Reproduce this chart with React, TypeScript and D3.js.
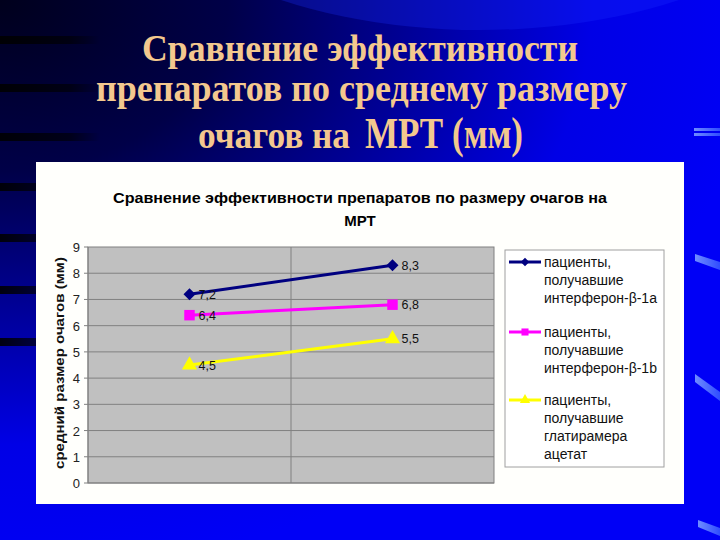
import React from 'react';
import * as d3 from 'd3';

// data
const categories = ['c1', 'c2'];
const seriesNames = [
  ['пациенты,', 'получавшие', 'интерферон-β-1a'],
  ['пациенты,', 'получавшие', 'интерферон-β-1b'],
  ['пациенты,', 'получавшие', 'глатирамера', 'ацетат'],
];
const beta1a = [7.2, 8.3];
const beta1b = [6.4, 6.8];
const glatiramer = [4.5, 5.5];
const yTicks = [0, 1, 2, 3, 4, 5, 6, 7, 8, 9];

const slideTitle = ['Сравнение эффективности', 'препаратов по среднему размеру'];
const chartTitle = ['Сравнение эффективности препаратов по размеру очагов на', 'МРТ'];
const yTitle = 'средний размер очагов (мм)';

const W = 720;
const H = 540;

// diamonds are squares turned 45 degrees, as in the Excel marker
const series = [
  { values: beta1a, color: '#000080', symbol: d3.symbolSquare, rot: 45, size: 72, lsize: 36 },
  { values: beta1b, color: '#FF00FF', symbol: d3.symbolSquare, rot: 0, size: 110, lsize: 50 },
  { values: glatiramer, color: '#FFFF00', symbol: d3.symbolTriangle, rot: 0, size: 100, lsize: 45 },
];

const ru = d3.formatLocale({ decimal: ',', thousands: ' ', grouping: [3], currency: ['', ''] });
const fmt = ru.format('.1f');

export default function App() {
  const plot = { left: 88, right: 494, top: 247, bottom: 483 };

  const x = d3.scaleBand<string>().domain(categories).range([plot.left, plot.right]);
  const y = d3.scaleLinear().domain([0, 9]).range([plot.bottom, plot.top]);

  const line = d3
    .line<number>()
    .x((_, i) => x(categories[i])! + x.bandwidth() / 2)
    .y((d) => y(d));

  const sans = 'Arial, "Liberation Sans", sans-serif';
  const serif = '"Times New Roman", "Liberation Serif", serif';
  const stripes = [40, 88, 137, 187, 238, 290, 342];

  // legend layout
  const legend = { left: 505, top: 250, right: 664, bottom: 467 };
  const groupTop = [267, 337, 405];
  const lineGap = 18;

  return (
    <svg width={W} height={H} style={{ position: 'absolute', left: 0, top: 0 }}>
      <defs>
        <radialGradient
          id="bg"
          cx="0"
          cy="0"
          r="760"
          gradientUnits="userSpaceOnUse"
          gradientTransform="scale(1,0.75)"
        >
          <stop offset="0" stopColor="#00001c" />
          <stop offset="0.3" stopColor="#000048" />
          <stop offset="0.55" stopColor="#00009a" />
          <stop offset="0.78" stopColor="#0000e6" />
          <stop offset="1" stopColor="#0000f6" />
        </radialGradient>
        <linearGradient id="stripe" x1="0" x2="1" y1="0" y2="0">
          <stop offset="0" stopColor="#000000" stopOpacity="0.9" />
          <stop offset="0.7" stopColor="#000000" stopOpacity="0.6" />
          <stop offset="1" stopColor="#000000" stopOpacity="0" />
        </linearGradient>
        <linearGradient id="tick" x1="0" x2="1" y1="0" y2="0">
          <stop offset="0" stopColor="#6f8cff" />
          <stop offset="1" stopColor="#2f4cff" />
        </linearGradient>
      </defs>

      {/* slide background */}
      <rect x={0} y={0} width={W} height={H} fill="url(#bg)" />
      <ellipse cx={480} cy={-150} rx={360} ry={180} fill="#1a30ff" opacity={0.28} />
      {stripes.map((s, i) => (
        <rect key={i} x={0} y={s - 4} width={i < 3 ? 100 : 60} height={8} fill="url(#stripe)" />
      ))}
      <rect x={694} y={128} width={26} height={3} fill="url(#tick)" />
      <rect x={694} y={133} width={26} height={3} fill="url(#tick)" />
      <path d="M695,254 L720,262 L720,270 L695,261 Z" fill="url(#tick)" />
      <path d="M695,374 L720,392 L720,401 L695,382 Z" fill="url(#tick)" />
      <path d="M698,520 L720,528 L720,536 L698,527 Z" fill="url(#tick)" />

      {/* slide title */}
      <g fill="#F3C88E" fontFamily={serif} fontWeight="bold">
        <text x={142} y={61} fontSize={37} textLength={436} lengthAdjust="spacingAndGlyphs">
          {slideTitle[0]}
        </text>
        <text x={96} y={101} fontSize={38} textLength={531} lengthAdjust="spacingAndGlyphs">
          {slideTitle[1]}
        </text>
        <text x={198} y={148} fontSize={38} textLength={152} lengthAdjust="spacingAndGlyphs">
          очагов на
        </text>
        <text x={365} y={148} fontSize={45} textLength={158} lengthAdjust="spacingAndGlyphs">
          МРТ (мм)
        </text>
      </g>

      {/* chart panel */}
      <rect x={36} y={162} width={648} height={342} fill="#FFFFFC" />

      <g fontFamily={sans} fontWeight="bold" fontSize={15} fill="#000">
        <text x={113} y={203} textLength={494} lengthAdjust="spacingAndGlyphs">
          {chartTitle[0]}
        </text>
        <text x={360} y={226} textAnchor="middle">
          {chartTitle[1]}
        </text>
      </g>

      {/* plot area */}
      <rect
        x={plot.left}
        y={plot.top}
        width={plot.right - plot.left}
        height={plot.bottom - plot.top}
        fill="#C0C0C0"
        stroke="#808080"
      />
      {yTicks.slice(1, -1).map((t) => (
        <line key={t} x1={plot.left} x2={plot.right} y1={y(t)} y2={y(t)} stroke="#808080" />
      ))}
      <line x1={x(categories[1])} x2={x(categories[1])} y1={plot.top} y2={plot.bottom} stroke="#808080" />
      <line x1={plot.left} x2={plot.left} y1={plot.top} y2={plot.bottom} stroke="#808080" />
      <line x1={plot.left} x2={plot.right} y1={plot.bottom} y2={plot.bottom} stroke="#808080" />

      {/* y axis */}
      <g fontFamily={sans} fontSize={13} fill="#222" textAnchor="end">
        {yTicks.map((t) => (
          <g key={t}>
            <line x1={plot.left - 4} x2={plot.left} y1={y(t)} y2={y(t)} stroke="#808080" />
            <text x={plot.left - 8} y={y(t) + 5}>{t}</text>
          </g>
        ))}
      </g>
      <text
        transform={`translate(64,${(plot.top + plot.bottom) / 2 - 2}) rotate(-90)`}
        textAnchor="middle"
        fontFamily={sans}
        fontWeight="bold"
        fontSize={13.5}
        fill="#111"
        textLength={212}
        lengthAdjust="spacingAndGlyphs"
      >
        {yTitle}
      </text>

      {/* series */}
      {series.map((s, si) => (
        <g key={si}>
          <path d={line(s.values) || ''} fill="none" stroke={s.color} strokeWidth={3} />
          {s.values.map((v, i) => {
            const cx = x(categories[i])! + x.bandwidth() / 2;
            return (
              <g key={i}>
                <path
                  d={d3.symbol().type(s.symbol).size(s.size)() || ''}
                  transform={`translate(${cx},${y(v)}) rotate(${s.rot})`}
                  fill={s.color}
                />
                <text x={cx + 9} y={y(v) + 4.5} fontFamily={sans} fontSize={12.5} fill="#111">
                  {fmt(v)}
                </text>
              </g>
            );
          })}
        </g>
      ))}

      {/* legend */}
      <rect
        x={legend.left}
        y={legend.top}
        width={legend.right - legend.left}
        height={legend.bottom - legend.top}
        fill="#FFFFFF"
        stroke="#A0A0A0"
      />
      {series.map((s, si) => {
        const cy = groupTop[si] - 5;
        return (
          <g key={si}>
            <line x1={509} x2={541} y1={cy} y2={cy} stroke={s.color} strokeWidth={3} />
            <path
              d={d3.symbol().type(s.symbol).size(s.lsize)() || ''}
              transform={`translate(525,${cy}) rotate(${s.rot})`}
              fill={s.color}
            />
            {seriesNames[si].map((n, li) => (
              <text key={li} x={544} y={groupTop[si] + li * lineGap} fontFamily={sans} fontSize={14} fill="#111">
                {n}
              </text>
            ))}
          </g>
        );
      })}
    </svg>
  );
}
